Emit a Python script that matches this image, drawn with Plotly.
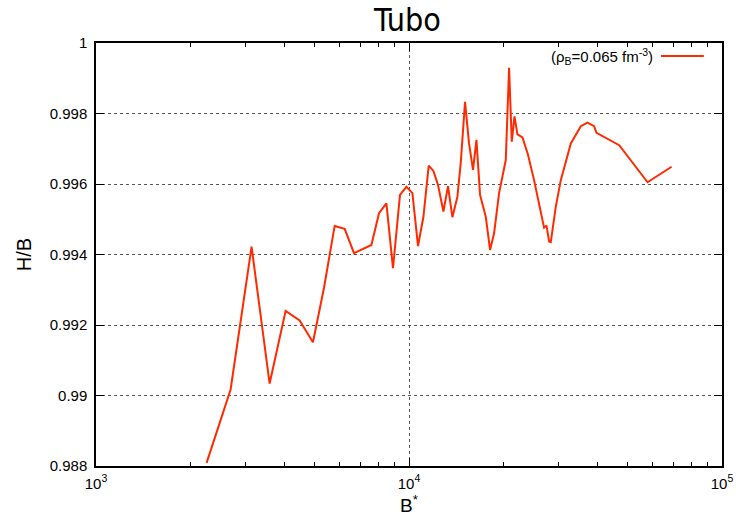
import plotly.graph_objects as go

# Data
b_star = [2256, 2692, 3141, 3587, 4035, 4473, 4933, 5350, 5787, 6230,
          6672, 7584, 8020, 8469, 8889, 9358, 9811, 10254, 10686, 11118,
          11561, 11967, 12381, 12882, 13324, 13761, 14277, 14630, 15101, 15552,
          16017, 16424, 16866, 17589, 18155, 18700, 19400, 20379, 20880, 21300,
          21726, 22208, 23040, 23964, 25095, 26363, 27013, 27497, 28028, 28380,
          29444, 30549, 32885, 35393, 37178, 39027, 39725, 46946, 57835, 69014]
h_over_b = [0.98809, 0.99017, 0.99422, 0.99034, 0.99240, 0.99213, 0.99151, 0.99305, 0.99481, 0.99473,
            0.99404, 0.99427, 0.99517, 0.99545, 0.99361, 0.99569, 0.99592, 0.99574, 0.99424, 0.99507,
            0.99652, 0.99637, 0.99597, 0.99522, 0.99594, 0.99506, 0.99564, 0.99659, 0.99833, 0.99715,
            0.99640, 0.99725, 0.99569, 0.99507, 0.99413, 0.99460, 0.99574, 0.99668, 0.99930, 0.99720,
            0.99792, 0.99741, 0.99732, 0.99685, 0.99611, 0.99526, 0.99476, 0.99482, 0.99437, 0.99435,
            0.99536, 0.99611, 0.99715, 0.99764, 0.99774, 0.99764, 0.99745, 0.99710, 0.99605, 0.99649]

x_tickvals = [1e3, 1e4, 1e5]
x_ticktext = ["10<sup>3</sup>", "10<sup>4</sup>", "10<sup>5</sup>"]
x_minorvals = [m * 10 ** e for e in (3, 4) for m in range(2, 10)]
y_tickvals = [0.988, 0.990, 0.992, 0.994, 0.996, 0.998, 1.0]
y_ticktext = ["0.988", "0.99", "0.992", "0.994", "0.996", "0.998", "1"]

legend_label = "(ρ<sub>B</sub>=0.065 fm<sup>-3</sup>)"
line_color = "#ff2a00"

fig = go.Figure()
fig.add_trace(go.Scatter(x=b_star, y=h_over_b, mode="lines",
                         line=dict(color=line_color, width=2),
                         name=legend_label, showlegend=False))

font_family = "Liberation Sans, Arial, sans-serif"
title_family = "Liberation Sans Narrow, DejaVu Sans Condensed, Liberation Sans, sans-serif"
axis_common = dict(showline=True, linecolor="black", linewidth=1.5, mirror="allticks",
                   ticks="inside", ticklen=8, tickcolor="black", tickwidth=1,
                   showgrid=True, gridcolor="#555555", griddash="dot", gridwidth=1,
                   zeroline=False, automargin=False,
                   tickfont=dict(size=15, color="black", family=font_family))

fig.update_xaxes(type="log", range=[3, 5], tickmode="array", tickvals=x_tickvals, ticktext=x_ticktext,
                 minor=dict(tickmode="array", tickvals=x_minorvals, ticks="inside", ticklen=4,
                            tickcolor="black", showgrid=False),
                 ticklabelstandoff=3,
                 title=dict(text="B<sup>*</sup>", font=dict(size=19, family=font_family, color="black"), standoff=2),
                 **axis_common)
fig.update_yaxes(range=[0.988, 1.0], tickmode="array", tickvals=y_tickvals, ticktext=y_ticktext,
                 ticklabelstandoff=4,
                 title=dict(text="H/B", font=dict(size=20, family=font_family, color="black"), standoff=13),
                 **axis_common)

# Legend (gnuplot style: text then sample line)
fig.add_annotation(xref="paper", yref="paper", x=0.893, y=0.969, xanchor="right", yanchor="middle",
                   text=legend_label, showarrow=False, font=dict(size=15, family=font_family, color="black"))
fig.add_shape(type="line", xref="paper", yref="paper", x0=0.9026, x1=0.971, y0=0.969, y1=0.969,
              line=dict(color=line_color, width=2))

fig.update_layout(width=736, height=517, margin=dict(l=96, r=14, t=43, b=51, autoexpand=False),
                  paper_bgcolor="white", plot_bgcolor="white",
                  title=dict(text="Tubo", x=0.5537, xanchor="center", y=0.961, yanchor="middle",
                             font=dict(size=32, family=title_family, color="black")),
                  font=dict(family=font_family, color="black"))

fig.write_html("out.html", config={"displayModeBar": False},
               post_script="document.body.style.margin='0';")
